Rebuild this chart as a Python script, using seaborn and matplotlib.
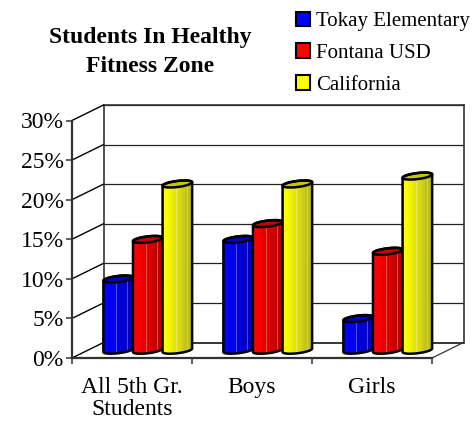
"""Students in healthy fitness zone: fake 3-D cylinder bars on seaborn's barplot."""
import matplotlib
matplotlib.use("Agg")
import matplotlib.pyplot as plt
from matplotlib.colors import to_rgb
from matplotlib.patches import Polygon
import numpy as np
import pandas as pd
import seaborn as sns

GROUPS = ["All 5th Gr.\nStudents", "Boys", "Girls"]
AREAS = ["Tokay Elementary", "Fontana USD", "California"]
TOKAY = [9, 14, 4]
FONTANA = [14, 16, 12.5]
CALIFORNIA = [21, 21, 22]
COLORS = ["#0000ff", "#ff0000", "#ffff00"]
TICKS = [0, 5, 10, 15, 20, 25, 30]

W, H = 476, 421
X0, Y0 = 72, 358       # front-plane origin, px from top-left
PW, PH = 360, 237.5    # front-plane size
DX, DY = 31.5, 15.5    # depth of the box
BELOW = 2              # % units of room under the bars, for the rounded bottoms

sns.set_theme(style="white")
plt.rcParams["font.family"] = ["Liberation Serif", "DejaVu Serif"]
plt.rcParams["text.color"] = "black"

df = pd.DataFrame({
    "group": GROUPS * 3,
    "area": np.repeat(AREAS, 3),
    "pct": TOKAY + FONTANA + CALIFORNIA,
})

fig = plt.figure(figsize=(W / 100, H / 100), dpi=100)


def plane(dx, dy, below=0):
    extra = below * PH / 30
    ax = fig.add_axes([(X0 + dx) / W, (H - Y0 + dy - extra) / H, PW / W, (PH + extra) / H])
    ax.set_xlim(-0.5, 2.5)
    ax.set_ylim(-below, 30)
    ax.patch.set_alpha(0)
    return ax


# back wall
back = plane(DX, DY)
back.set_xticks([])
back.set_yticks(TICKS[1:])
back.set_yticklabels([])
back.tick_params(left=False)
back.grid(axis="y", color="#222222", lw=0.9)
for side, sp in back.spines.items():
    sp.set_visible(side in ("top", "right", "left"))
    sp.set_color("#333333")
    sp.set_linewidth(1.2)

# front plane: axis lines, ticks, labels, depth lines
front = plane(0, 0)
front.set_xticks([-0.5, 0.5, 1.5, 2.5])
front.set_xticklabels([])
front.set_yticks(TICKS)
front.set_yticklabels([f"{t}%" for t in TICKS], fontsize=17, color="black")
front.tick_params(axis="both", length=4.5, width=1.1, color="#333333", bottom=True, left=True, pad=1.5)
sns.despine(ax=front)
for side in ("left", "bottom"):
    front.spines[side].set_color("#333333")
    front.spines[side].set_linewidth(1.6)
for i, g in enumerate(GROUPS):
    front.text(i, -2.4, g, ha="center", va="top", fontsize=17, linespacing=1.06)

ux, uy = DX / (PW / 3), DY / (PH / 30)
for t in TICKS:
    front.plot([-0.5, -0.5 + ux], [t, t + uy], color="black", lw=1, clip_on=False)
back.plot([-0.5, 2.5], [0, 0], color="black", lw=1.1, clip_on=False)
front.plot([2.5, 2.5 + ux], [0, uy], color="#333333", lw=0.9, clip_on=False)

# bars sit half way into the box
mid = plane(DX / 2, DY / 2, below=BELOW)
sns.barplot(data=df, x="group", y="pct", hue="area", hue_order=AREAS, palette=COLORS,
            width=0.74, gap=0, saturation=1, ax=mid, legend=True)
mid.axis("off")

handles, labels = mid.get_legend_handles_labels()
mid.get_legend().remove()
for h in handles:
    h.set_edgecolor("black")
    h.set_linewidth(1.5)
fig.legend(handles, labels, loc="upper left", bbox_to_anchor=(296 / W, 1 - 11.5 / H), frameon=False,
           fontsize=15, handlelength=0.68, handleheight=0.68, handletextpad=0.3,
           labelspacing=0.6, borderpad=0, borderaxespad=0)

# cylinder shading, left to right
stops = [0, 0.12, 0.3, 0.55, 0.8, 1]
shade = [1, 1, 0.93, 0.86, 0.75, 0.72]
xs = np.linspace(0, 1, 60)
ramp = np.interp(xs, stops, shade)
stripes = (np.abs(xs - 0.45) < 0.012) | (np.abs(xs - 0.68) < 0.012) | (np.abs(xs - 0.82) < 0.012)

t = np.linspace(0, 2 * np.pi, 80, endpoint=False)
ry, tilt = 0.38, 0.22  # ellipse half height and slope, in percent units
bars = [p for p in mid.patches if p.get_height() > 0]
for k, p in enumerate(bars):
    base = np.array(to_rgb(p.get_facecolor()))
    x, w, h = p.get_x(), p.get_width(), p.get_height()
    cx = x + w / 2
    ex = cx + w / 2 * np.cos(t)
    ey = ry * np.sin(t) + tilt * np.cos(t)
    outline = np.r_[np.c_[ex[:40], h + ey[:40]], np.c_[ex[40:], ey[40:]]]
    z = 3 + k
    body = Polygon(outline, closed=True, transform=mid.transData)
    p.set_clip_path(body)
    p.set_zorder(z)
    img = base[None, :] * ramp[None, :, None]
    if base[2] == 0 and base[1] > 0:
        img[..., 2] = (1 - ramp) * 0.5
    img[0, stripes] = img[0, stripes] * 0.7 + 0.3
    im = mid.imshow(img, extent=(x, x + w, -1.5, h + 1), aspect="auto", zorder=z + 0.1,
                    interpolation="nearest")
    im.set_clip_path(body)
    cap = base * 0.78
    mid.fill(ex, h + ey, facecolor=cap, edgecolor="none", zorder=z + 0.2, clip_on=False)
    mid.add_patch(Polygon(outline, closed=True, fill=False, edgecolor="black", lw=1.8,
                          zorder=z + 0.3, clip_on=False, joinstyle="round"))
    mid.plot(np.r_[ex, ex[0]], h + np.r_[ey, ey[0]], color="black", lw=1.8, zorder=z + 0.3, clip_on=False)
mid.set_xlim(-0.5, 2.5)
mid.set_ylim(-BELOW, 30)

fig.text(150 / W, 1 - 37 / H, "Students In Healthy", ha="center", va="center",
         fontsize=17, fontweight="bold")
fig.text(150 / W, 1 - 67 / H, "Fitness Zone", ha="center", va="center",
         fontsize=17, fontweight="bold")

fig.savefig("out.png", dpi=100)
